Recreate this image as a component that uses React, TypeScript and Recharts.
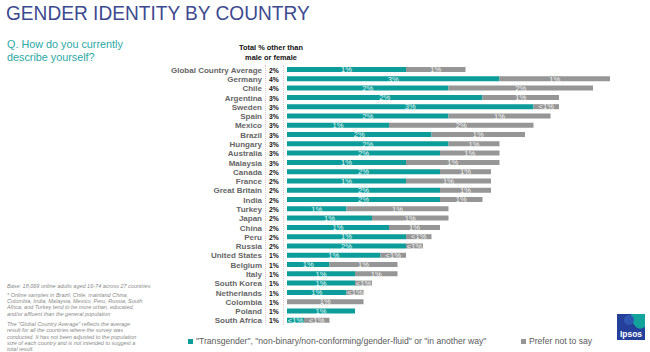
import { BarChart, Bar, XAxis, YAxis, LabelList } from 'recharts'

const countries = [
  'Global Country Average', 'Germany', 'Chile', 'Argentina', 'Sweden', 'Spain', 'Mexico', 'Brazil',
  'Hungary', 'Australia', 'Malaysia', 'Canada', 'France', 'Great Britain', 'India', 'Turkey', 'Japan',
  'China', 'Peru', 'Russia', 'United States', 'Belgium', 'Italy', 'South Korea', 'Netherlands',
  'Colombia', 'Poland', 'South Africa',
]
const totals = [
  '2%', '4%', '4%', '3%', '3%', '3%', '3%', '3%', '3%', '3%', '3%', '2%', '2%', '2%', '2%', '2%', '2%',
  '2%', '2%', '2%', '1%', '1%', '1%', '1%', '1%', '1%', '1%', '1%',
]
// estimated % shares
const transgender = [
  1.4, 2.5, 1.9, 2.3, 2.9, 1.9, 1.2, 1.7, 1.9, 1.8, 1.4, 1.8, 1.4, 1.8, 1.8, 0.7, 1.0,
  1.2, 1.4, 1.4, 1.1, 0.5, 0.8, 0.8, 0.7, 0, 0.8, 0.2,
]
const preferNot = [
  0.7, 1.3, 1.7, 0.9, 0.3, 1.2, 1.7, 1.1, 0.6, 0.7, 1.1, 0.6, 1.0, 0.6, 0.5, 1.2, 0.9,
  0.6, 0.3, 0.2, 0.3, 0.8, 0.5, 0.2, 0.2, 0.9, 0, 0.3,
]
const transLabels = [
  '1%', '3%', '2%', '2%', '3%', '2%', '1%', '2%', '2%', '2%', '1%', '2%', '1%', '2%', '2%', '1%', '1%',
  '1%', '1%', '2%', '1%', '1%', '1%', '1%', '1%', '', '1%', '<1%',
]
const preferLabels = [
  '1%', '1%', '2%', '1%', '<1%', '1%', '2%', '1%', '1%', '1%', '1%', '1%', '1%', '1%', '1%', '1%', '1%',
  '1%', '<1%', '<1%', '<1%', '1%', '1%', '<1%', '<1%', '1%', '', '<1%',
]

const TEAL = '#0c9c99'
const GREY = '#969696'
const FONT = '"Liberation Sans", Arial, sans-serif'

const data = countries.map((name, i) => ({
  name,
  trans: transgender[i],
  prefer: preferNot[i],
  transLabel: transLabels[i],
  preferLabel: preferLabels[i],
}))

function CountryTick(props: any) {
  const { y, payload, index } = props
  return (
    <g>
      <text x={262} y={y} dy={3} textAnchor="end" fontSize={8} fontWeight="bold" fill="#666" fontFamily={FONT}>
        {payload.value}
      </text>
      <text x={274} y={y} dy={3} textAnchor="middle" fontSize={6.8} fontWeight="bold" fill="#111" fontFamily={FONT}>
        {totals[index]}
      </text>
    </g>
  )
}

function LegendBox() {
  const item = (color: string, text: string, left: number) => (
    <div style={{ position: 'absolute', left, top: 0, display: 'flex', alignItems: 'center', whiteSpace: 'nowrap' }}>
      <span style={{ width: 5, height: 5, background: color, display: 'inline-block', marginRight: 3 }} />
      <span>{text}</span>
    </div>
  )
  return (
    <div style={{ position: 'absolute', left: 188, top: 336, width: 460, height: 12, fontSize: 8.6, color: '#5a5a5a' }}>
      {item(TEAL, '"Transgender", "non-binary/non-conforming/gender-fluid" or "in another way"', 0)}
      {item(GREY, 'Prefer not to say', 333)}
    </div>
  )
}

const noteLines1 = [
  '* Online samples in Brazil, Chile, mainland China,',
  'Colombia, India, Malaysia, Mexico, Peru, Russia, South',
  'Africa, and Turkey tend to be more urban, educated,',
  'and/or affluent than the general population',
]
const noteLines2 = [
  'The "Global Country Average" reflects the average',
  'result for all the countries where the survey was',
  'conducted. It has not been adjusted to the population',
  'size of each country and is not intended to suggest a',
  'total result.',
]

export default function App() {
  return (
    <div style={{ position: 'absolute', left: 0, top: 0, width: 650, height: 352, background: '#fff', overflow: 'hidden', fontFamily: FONT }}>
      <div style={{ position: 'absolute', left: 6, top: 1, fontSize: 21, color: '#3d4a8f', transform: 'scaleX(0.91)', transformOrigin: 'left top', whiteSpace: 'nowrap' }}>
        GENDER IDENTITY BY COUNTRY
      </div>
      <div style={{ position: 'absolute', left: 7, top: 38, fontSize: 10.8, lineHeight: '12.5px', color: '#2aa8a3' }}>
        Q. How do you currently<br />describe yourself?
      </div>
      <div style={{ position: 'absolute', left: 221, top: 43, width: 100, textAlign: 'center', fontSize: 7.4, lineHeight: '9.5px', fontWeight: 'bold', color: '#111' }}>
        Total % other than<br />male or female
      </div>
      <div style={{ position: 'absolute', left: 265, top: 65, height: 260, borderLeft: '1px dotted #e7c3cc' }} />
      <div style={{ position: 'absolute', left: 283, top: 65, height: 260, borderLeft: '1px dotted #e7c3cc' }} />

      <div style={{ position: 'absolute', left: 7, top: 283, width: 165, fontSize: 5.5, lineHeight: '6.3px', fontStyle: 'italic', color: '#8a8a8a', whiteSpace: 'nowrap' }}>
        <div style={{ marginBottom: 2.5 }}>Base: 18,069 online adults aged 16-74 across 27 countries</div>
        {noteLines1.map(l => <div key={l}>{l}</div>)}
        <div style={{ height: 4 }} />
        {noteLines2.map(l => <div key={l}>{l}</div>)}
      </div>

      <svg style={{ position: 'absolute', left: 617, top: 314 }} width={28} height={26}>
        <rect x={0} y={0} width={28} height={26} fill="#24409a" />
        <path d="M14 0 H28 V13 Q22 17 18 12 Q13 6 14 0 Z" fill="#12a39c" />
        <circle cx={12} cy={6} r={5} fill="#2f56b0" />
        <text x={14} y={23} textAnchor="middle" fontSize={8.5} fontWeight="bold" fill="#fff" fontFamily={FONT}>Ipsos</text>
      </svg>

      <LegendBox />

      <BarChart
        width={650}
        height={352}
        data={data}
        layout="vertical"
        margin={{ top: 65, right: 23, bottom: 27, left: 0 }}
        barCategoryGap="22%"
        style={{ position: 'absolute', left: 0, top: 0 }}
      >
        <XAxis type="number" domain={[0, 4]} hide />
        <YAxis type="category" dataKey="name" width={287} axisLine={false} tickLine={false} tick={<CountryTick />} interval={0} />
        <Bar dataKey="trans" stackId="a" fill={TEAL} isAnimationActive={false}>
          <LabelList dataKey="transLabel" position="center" fill="#e6f7f6" fontSize={7.6} fontFamily={FONT} />
        </Bar>
        <Bar dataKey="prefer" stackId="a" fill={GREY} isAnimationActive={false}>
          <LabelList dataKey="preferLabel" position="center" fill="#f2f2f2" fontSize={7.6} fontFamily={FONT} />
        </Bar>
      </BarChart>
    </div>
  )
}
